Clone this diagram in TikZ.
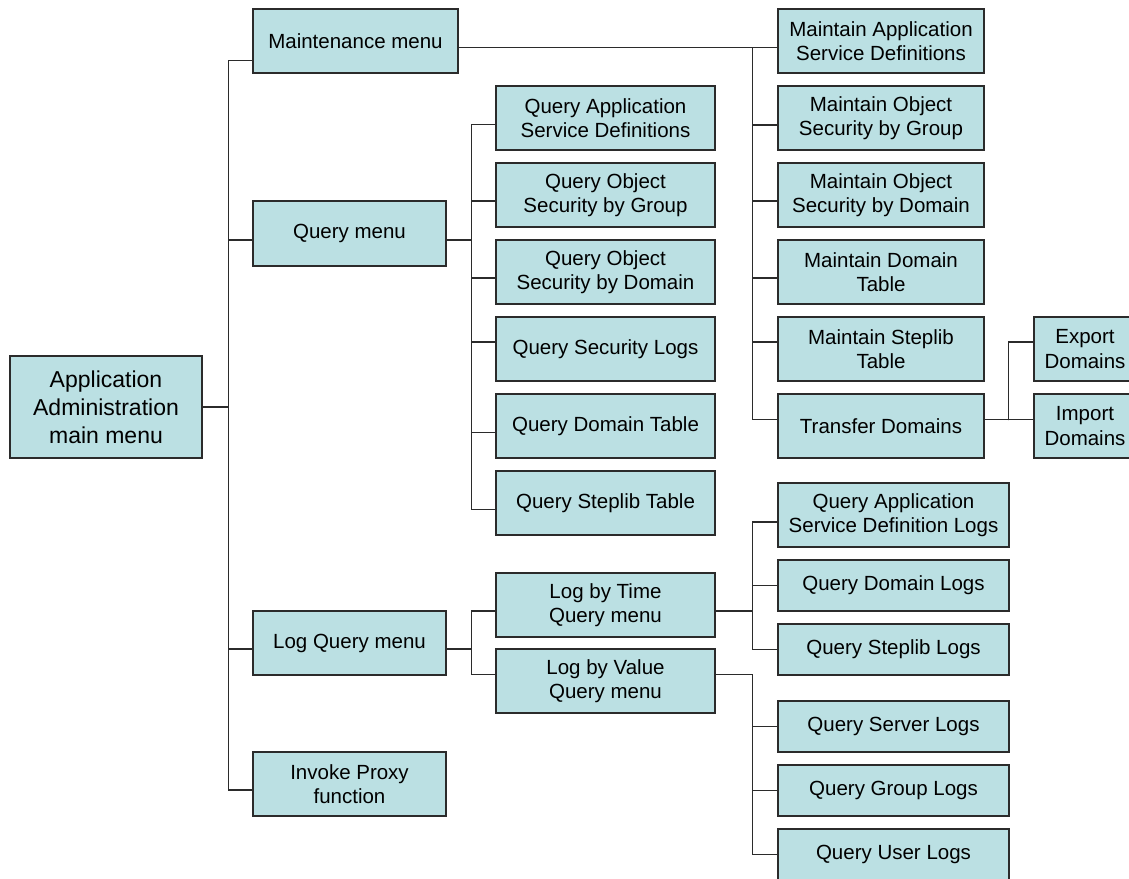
\documentclass[tikz,border=0pt]{standalone}
\usepackage{fontspec}
\setmainfont{Liberation Sans}
\usepackage{tikz}
\usetikzlibrary{positioning, calc}
\definecolor{boxfill}{HTML}{BBE0E3}
\definecolor{boxline}{HTML}{2B2B2B}
\tikzset{
  menu/.style={draw=boxline, fill=boxfill, line width=1.2pt, align=center, inner sep=0pt,
    font=\fontsize{20.5}{24.5}\selectfont},
  qbox/.style={menu, minimum width=219pt, minimum height=64pt},
  mbox/.style={menu, minimum width=206pt, minimum height=64pt},
  lbox/.style={menu, minimum width=231pt, minimum height=51pt},
  tbox/.style={menu, minimum width=193pt, minimum height=64pt},
  wire/.style={draw=boxline, line width=1.4pt},
}
\begin{document}
\begin{tikzpicture}[x=1pt, y=-1pt]
                    \useasboundingbox (0,0) rectangle (1129,878);
                    \node[menu, minimum width=192pt, minimum height=102pt,
                      font=\fontsize{23}{28}\selectfont] (main) at (106,407) {Application\\Administration\\main menu};
                    \node[tbox, minimum width=205pt] (maint) at (355.5,41) {Maintenance menu};
                    \node[tbox, minimum height=65pt] (query) at (349.5,233.5) {Query menu};
                    \node[tbox] (logq) at (349.5,643) {Log Query menu};
                    \node[tbox] (invoke) at (349.5,784) {Invoke Proxy\\function};
                    \node[qbox] (qasd) at (605.5,118) {Query Application\\Service Definitions};
                    \node[qbox, below=11.8pt of qasd] (qosg) {Query Object\\Security by Group};
                    \node[qbox, below=11.8pt of qosg] (qosd) {Query Object\\Security by Domain};
                    \node[qbox, below=11.8pt of qosd] (qsl) {Query Security Logs};
                    \node[qbox, below=11.8pt of qsl] (qdt) {Query Domain Table};
                    \node[qbox, below=11.8pt of qdt] (qst) {Query Steplib Table};
                    \node[qbox] (logtime) at (605.5,605) {Log by Time\\Query menu};
                    \node[qbox, below=10.8pt of logtime] (logvalue) {Log by Value\\Query menu};
                    \node[mbox] (mas) at (881,41) {Maintain Application\\Service Definitions};
                    \node[mbox, below=11.8pt of mas] (mosg) {Maintain Object\\Security by Group};
                    \node[mbox, below=11.8pt of mosg] (mosd) {Maintain Object\\Security by Domain};
                    \node[mbox, below=11.8pt of mosd] (mdt) {Maintain Domain\\Table};
                    \node[mbox, below=11.8pt of mdt] (mst) {Maintain Steplib\\Table};
                    \node[mbox, below=11.8pt of mst] (transfer) {Transfer Domains};
                    \node[menu, minimum width=102pt, minimum height=64pt] (export) at (1085,349) {Export\\Domains};
                    \node[menu, minimum width=102pt, minimum height=64pt, below=11.8pt of export] (import) {Import\\Domains};
                    \node[lbox, minimum height=64pt] (qasdl) at (893.5,515) {Query Application\\Service Definition Logs};
                    \node[lbox, below=11.8pt of qasdl] (qdl) {Query Domain Logs};
                    \node[lbox, below=11.8pt of qdl] (qstl) {Query Steplib Logs};
                    \node[lbox, below=24.8pt of qstl] (qserl) {Query Server Logs};
                    \node[lbox, below=11.8pt of qserl] (qgl) {Query Group Logs};
                    \node[lbox, below=11.8pt of qgl] (qul) {Query User Logs};
                    \coordinate (mbus) at ($(main.east)+(26,0)$);
                    \coordinate (qbus) at ($(query.east)+(25,6.5)$);
                    \coordinate (lqbus) at ($(logq.east)+(25,6)$);
                    \coordinate (mabus) at ($(maint.east)+(294,6.7)$);
                    \coordinate (tbus) at ($(transfer.east)+(24,-6.5)$);
                    \coordinate (ltbus) at ($(logtime.east)+(37,6)$);
                    \coordinate (lvbus) at ($(logvalue.east)+(37,-6.5)$);
                    \draw[wire] (main.east) -- (mbus);
                    \draw[wire] ([yshift=-6.5pt]query.east) -- (qbus);
                    \draw[wire] ([yshift=-6pt]logq.east) -- (lqbus);
                    \draw[wire] ([yshift=-6.7pt]maint.east) -- (mabus);
                    \draw[wire] ([yshift=6.5pt]transfer.east) -- (tbus);
                    \draw[wire] ([yshift=-6pt]logtime.east) -- (ltbus);
                    \draw[wire] ([yshift=6.5pt]logvalue.east) -- (lvbus);
                    \foreach \n/\d in {maint/-19.7, query/-6.5, logq/-6, invoke/-6}
                      \draw[wire] (mbus) |- ([yshift=\d pt]\n.west);
                    \foreach \n/\d in {qasd/-6.7, qosg/-6, qosd/-6, qsl/7, qdt/-6.5, qst/-6.5}
                      \draw[wire] (qbus) |- ([yshift=\d pt]\n.west);
                    \foreach \n/\d in {logtime/-6, logvalue/6.5}
                      \draw[wire] (lqbus) |- ([yshift=\d pt]\n.west);
                    \foreach \n/\d in {mas/-6.7, mosg/-7, mosd/-6, mdt/-6, mst/7, transfer/6.5}
                      \draw[wire] (mabus) |- ([yshift=\d pt]\n.west);
                    \foreach \n/\d in {export/7, import/6.5}
                      \draw[wire] (tbus) |- ([yshift=\d pt]\n.west);
                    \foreach \n/\d in {qasdl/-7, qdl/0, qstl/0}
                      \draw[wire] (ltbus) |- ([yshift=\d pt]\n.west);
                    \foreach \n/\d in {qserl/0, qgl/0, qul/0}
                      \draw[wire] (lvbus) |- ([yshift=\d pt]\n.west);
                \end{tikzpicture}
\end{document}
